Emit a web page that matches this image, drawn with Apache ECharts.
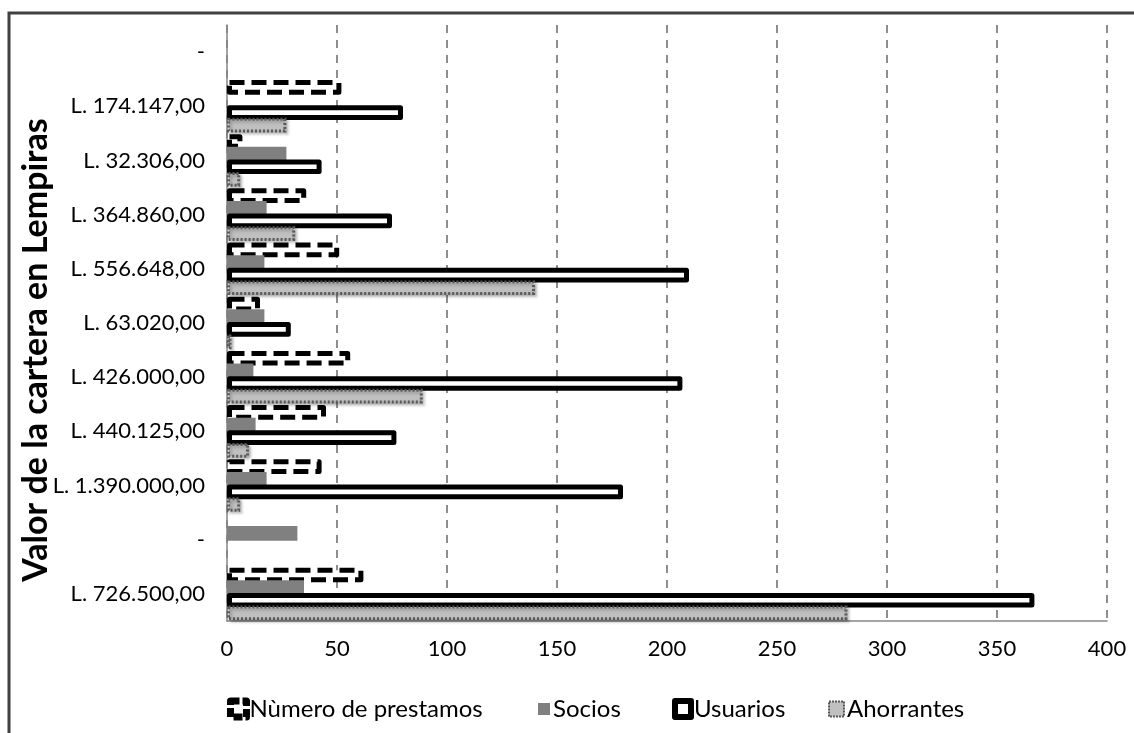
<!DOCTYPE html>
<html>
<head>
<meta charset="utf-8">
<script src="https://cdn.jsdelivr.net/npm/echarts@6/dist/echarts.min.js"></script>
<style>
  html, body { margin: 0; padding: 0; background: #ffffff; }
  #chart { width: 1134px; height: 733px; }
</style>
</head>
<body>
<div id="chart"></div>
<script>
// Portfolio value per cooperative (bottom to top on the category axis)
const carteras = [
  'L. 726.500,00', '-', 'L. 1.390.000,00', 'L. 440.125,00', 'L. 426.000,00',
  'L. 63.020,00', 'L. 556.648,00', 'L. 364.860,00', 'L. 32.306,00', 'L. 174.147,00', '-'
];
const prestamos  = [62, null, 43, 45, 56, 15, 51, 36, 7, 52, null];
const socios     = [35, 32, 18, 13, 12, 17, 17, 18, 27, null, null];
const usuarios   = [367, null, 180, 77, 207, 29, 210, 75, 43, 80, null];
const ahorrantes = [282, null, 6, 10, 89, 2, 140, 31, 6, 27, null];
const xTicks = { min: 0, max: 400, interval: 50 };
const axisTitle = 'Valor de la cartera en Lempiras';

const FONT = 'Lato';
const styles = {
  'Nùmero de prestamos': { color: '#ffffff', borderColor: '#000000', borderWidth: 5, borderType: [15, 7], borderJoin: 'round' },
  'Socios':              { color: '#808080', borderWidth: 0 },
  'Usuarios':            { color: '#ffffff', borderColor: '#000000', borderWidth: 5, borderJoin: 'round' },
  'Ahorrantes':          { color: '#c0c0c0', borderColor: '#595959', borderWidth: 3, borderType: [2, 2],
                           shadowColor: 'rgba(0,0,0,0.35)', shadowBlur: 3, shadowOffsetX: 2, shadowOffsetY: 2 }
};
const seriesData = [
  ['Nùmero de prestamos', prestamos],
  ['Socios', socios],
  ['Usuarios', usuarios],
  ['Ahorrantes', ahorrantes]
];

// one legend block per entry so each icon can carry its own look
const legendSpots = [
  { name: 'Nùmero de prestamos', left: 222, w: 16, h: 16, icon: { color: '#ffffff', borderColor: '#000000', borderWidth: 7, borderType: [9, 3] } },
  { name: 'Socios',              left: 533, w: 12, h: 12, icon: { color: '#808080', borderWidth: 0 } },
  { name: 'Usuarios',            left: 667, w: 16, h: 16, icon: { color: '#ffffff', borderColor: '#000000', borderWidth: 6 } },
  { name: 'Ahorrantes',          left: 823, w: 15, h: 15, icon: { color: '#c0c0c0', borderColor: '#595959', borderWidth: 2, borderType: [2, 1] } }
];

const chart = echarts.init(document.getElementById('chart'), null, { renderer: 'canvas' });
chart.setOption({
  backgroundColor: '#ffffff',
  animation: false,
  textStyle: { fontFamily: FONT },
  graphic: [
    {
      type: 'rect',
      shape: { x: 9, y: 13, width: 1135, height: 735 },
      style: { fill: 'none', stroke: '#404040', lineWidth: 3 },
      silent: true
    },
    {
      type: 'text',
      x: 36, y: 350,
      rotation: Math.PI / 2,
      style: {
        text: axisTitle,
        fontFamily: FONT, fontWeight: 'bold', fontSize: 34, fill: '#000000',
        align: 'center', verticalAlign: 'middle'
      },
      silent: true
    }
  ],
  legend: legendSpots.map(l => ({
    data: [l.name],
    left: l.left,
    top: 692,
    itemWidth: l.w,
    itemHeight: l.h,
    icon: 'rect',
    itemStyle: l.icon,
    textStyle: { fontFamily: FONT, fontSize: 24, color: '#000000', padding: [0, 0, 0, -2] },
    selectedMode: false
  })),
  grid: { left: 227, right: 27, top: 25, bottom: 112, containLabel: false },
  xAxis: {
    type: 'value',
    min: xTicks.min, max: xTicks.max, interval: xTicks.interval,
    axisLine: { show: true, lineStyle: { color: '#868686', width: 1.5 } },
    axisTick: { show: false },
    axisLabel: { color: '#000000', fontFamily: FONT, fontSize: 22, margin: 17 },
    splitLine: { show: true, lineStyle: { color: '#8e8e8e', width: 2, type: [8, 7] } }
  },
  yAxis: {
    type: 'category',
    data: carteras,
    axisLine: { show: true, lineStyle: { color: '#868686', width: 1.5 } },
    axisTick: { show: false },
    axisLabel: { color: '#000000', fontFamily: FONT, fontSize: 22, margin: 22, interval: 0 },
    splitLine: { show: false }
  },
  series: seriesData.map(([name, data]) => ({
    name,
    type: 'bar',
    data,
    barGap: '-14%',
    barCategoryGap: '3%',
    itemStyle: styles[name]
  }))
});
</script>
</body>
</html>
